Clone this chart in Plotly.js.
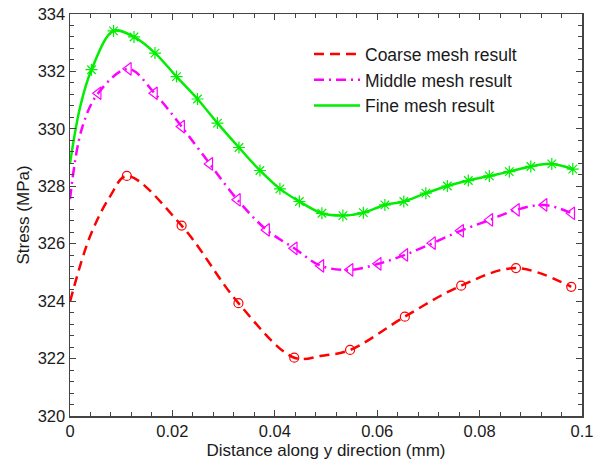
<!DOCTYPE html>
<html>
<head>
<meta charset="utf-8">
<script src="https://cdn.plot.ly/plotly-3.0.1.min.js"></script>
<style>
  html, body { margin: 0; padding: 0; background: #ffffff; }
  #chart { width: 606px; height: 464px; }
</style>
</head>
<body>
<div id="chart"></div>
<script>
// Stress along the y direction for three mesh densities.
// Marker positions (result nodes) for each mesh.
var coarseX = [0.0111, 0.0218, 0.0329, 0.0438, 0.0547, 0.0654, 0.0764, 0.0871, 0.0979];
var coarseY = [328.36, 326.63, 323.93, 322.03, 322.30, 323.46, 324.54, 325.15, 324.50];

var middleX = [0.0055, 0.0114, 0.0165, 0.0218, 0.0273, 0.0327, 0.0384, 0.0438, 0.0490,
               0.0547, 0.0602, 0.0654, 0.0708, 0.0763, 0.0820, 0.0872, 0.0926, 0.0980];
var middleY = [331.24, 332.09, 331.24, 330.08, 328.78, 327.53, 326.48, 325.84, 325.23,
               325.09, 325.30, 325.61, 326.02, 326.45, 326.83, 327.18, 327.35, 327.06];

var fineX = [0.0042, 0.0085, 0.0125, 0.0166, 0.0208, 0.0249, 0.0288, 0.0330, 0.0371, 0.0410,
             0.0448, 0.0492, 0.0533, 0.0573, 0.0615, 0.0652, 0.0695, 0.0737, 0.0778, 0.0819,
             0.0858, 0.0900, 0.0941, 0.0982];
var fineY = [332.06, 333.41, 333.20, 332.64, 331.82, 331.04, 330.20, 329.35, 328.55, 327.91,
             327.47, 327.06, 326.98, 327.08, 327.35, 327.47, 327.76, 328.01, 328.20, 328.36,
             328.51, 328.69, 328.78, 328.60];

// Additional curve samples: the wall (x = 0) up to the first node, and the
// coarse curve's flat bottom between its 4th and 5th nodes.
var coarseEdgeX = [0, 0.0039, 0.0078, 0.0492];
var coarseEdgeY = [323.98, 326.25, 327.64, 322.10];
var middleEdgeX = [0, 0.0023];
var middleEdgeY = [327.55, 330.00];
var fineEdgeX = [0, 0.0020];
var fineEdgeY = [328.80, 330.78];

var seriesNames = ['Coarse mesh result', 'Middle mesh result', 'Fine mesh result'];

function curve(ex, ey, mx, my) {
  var pts = [];
  for (var i = 0; i < ex.length; i++) pts.push([ex[i], ey[i]]);
  for (var j = 0; j < mx.length; j++) pts.push([mx[j], my[j]]);
  pts.sort(function (a, b) { return a[0] - b[0]; });
  return { x: pts.map(function (p) { return p[0]; }), y: pts.map(function (p) { return p[1]; }) };
}

var red = '#ff0000', magenta = '#ff00ff', green = '#00ee00';
var cC = curve(coarseEdgeX, coarseEdgeY, coarseX, coarseY);
var cM = curve(middleEdgeX, middleEdgeY, middleX, middleY);
var cF = curve(fineEdgeX, fineEdgeY, fineX, fineY);

var traces = [
  { x: cC.x, y: cC.y, mode: 'lines', name: seriesNames[0],
    line: { color: red, width: 2.5, dash: '10px,6px', shape: 'spline', smoothing: 1 } },
  { x: cM.x, y: cM.y, mode: 'lines', name: seriesNames[1],
    line: { color: magenta, width: 2.5, dash: '10px,5px,2px,5px', shape: 'spline', smoothing: 1 } },
  { x: cF.x, y: cF.y, mode: 'lines', name: seriesNames[2],
    line: { color: green, width: 2.5, shape: 'spline', smoothing: 1 } },
  { x: coarseX, y: coarseY, mode: 'markers', showlegend: false,
    marker: { symbol: 'circle-open', size: 9, color: red, line: { width: 1.2, color: red } } },
  { x: middleX, y: middleY, mode: 'markers', showlegend: false,
    marker: { symbol: 'triangle-left-open', size: 11, color: magenta, line: { width: 1.2, color: magenta } } },
  { x: fineX, y: fineY, mode: 'markers', showlegend: false,
    marker: { symbol: 'asterisk-open', size: 10, color: green, line: { width: 1.2, color: green } } }
];

var axisColor = '#444444';
var fontFam = 'Arial, "Liberation Sans", sans-serif';

var layout = {
  width: 606, height: 464,
  margin: { l: 70, r: 24, t: 14, b: 48 },
  paper_bgcolor: '#ffffff', plot_bgcolor: '#ffffff',
  font: { family: fontFam, size: 17, color: '#1a1a1a' },
  showlegend: true,
  legend: {
    x: 0.4668, y: 0.945, xanchor: 'left', yanchor: 'top',
    bgcolor: 'rgba(0,0,0,0)', borderwidth: 0,
    font: { family: fontFam, size: 17.5, color: '#1a1a1a' },
    itemwidth: 46, tracegroupgap: 0
  },
  xaxis: {
    range: [0, 0.1], dtick: 0.02, tick0: 0,
    showgrid: false, zeroline: false,
    showline: true, linecolor: axisColor, linewidth: 1.5, mirror: 'allticks',
    ticks: 'inside', ticklen: 6, tickwidth: 1.2, tickcolor: axisColor,
    minor: { dtick: 0.004, ticks: 'inside', ticklen: 4, tickwidth: 1, tickcolor: axisColor, showgrid: false },
    tickfont: { family: fontFam, size: 16.5, color: '#1a1a1a' },
    title: { text: 'Distance along y direction (mm)', font: { family: fontFam, size: 17, color: '#1a1a1a' }, standoff: 5 }
  },
  yaxis: {
    range: [320, 334], dtick: 2, tick0: 320,
    showgrid: false, zeroline: false,
    showline: true, linecolor: axisColor, linewidth: 1.5, mirror: 'allticks',
    ticks: 'inside', ticklen: 6, tickwidth: 1.2, tickcolor: axisColor,
    minor: { dtick: 0.4, ticks: 'inside', ticklen: 4, tickwidth: 1, tickcolor: axisColor, showgrid: false },
    tickfont: { family: fontFam, size: 16.5, color: '#1a1a1a' },
    title: { text: 'Stress (MPa)', font: { family: fontFam, size: 17, color: '#1a1a1a' }, standoff: 3 }
  }
};

Plotly.newPlot('chart', traces, layout, { displayModeBar: false, staticPlot: true });
</script>
</body>
</html>
